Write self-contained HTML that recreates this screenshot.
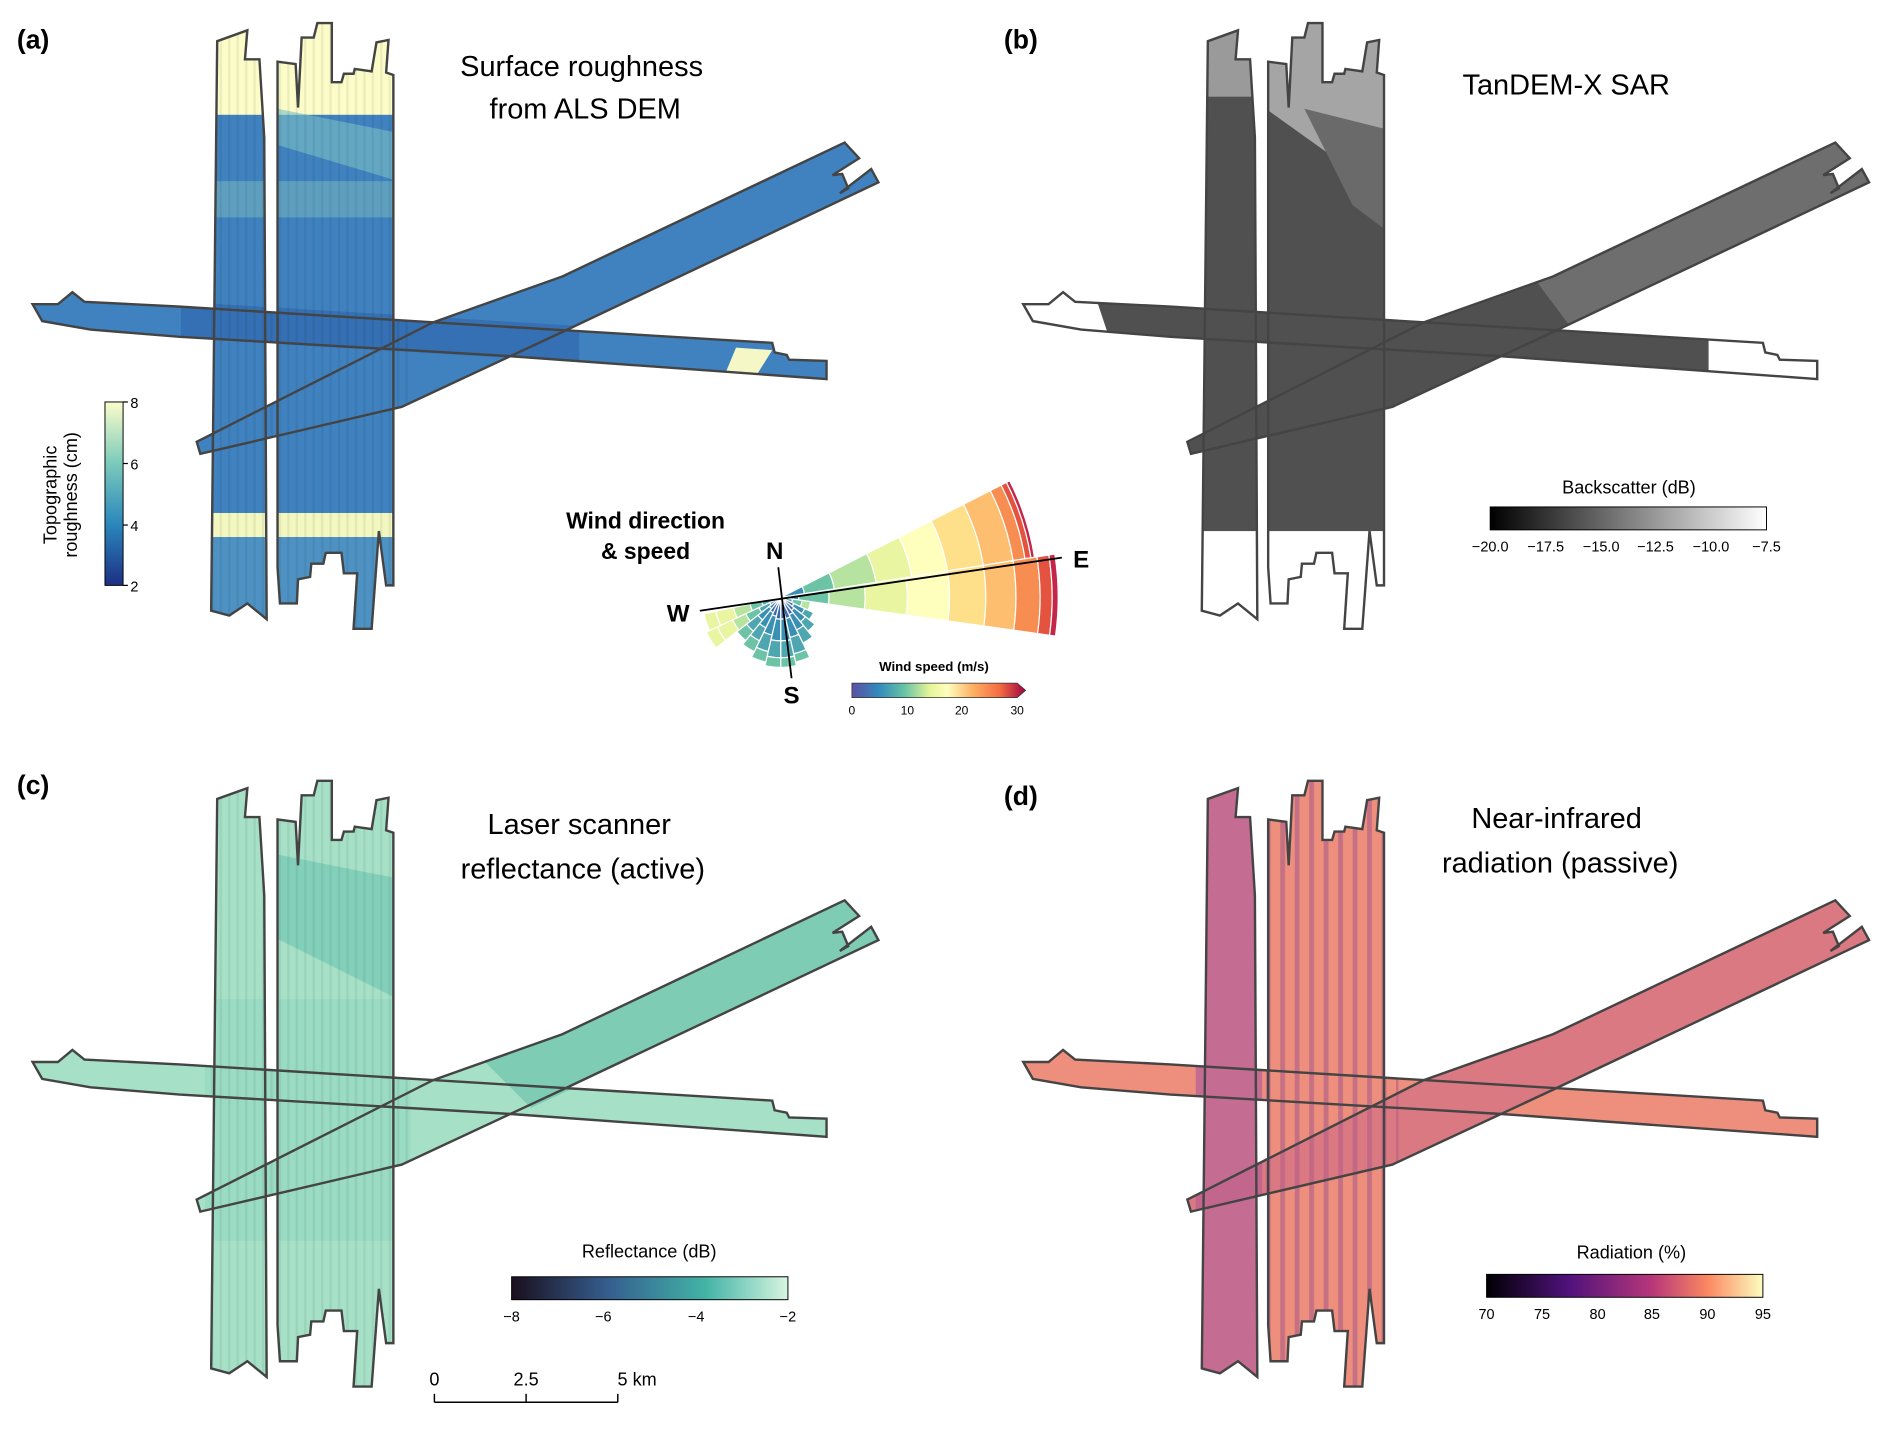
<!DOCTYPE html>
<html><head><meta charset="utf-8"><style>
html,body{margin:0;padding:0;background:#fff}
svg{display:block}
text{font-family:"Liberation Sans",sans-serif}
</style></head><body>
<svg id="s" width="1892" height="1435" viewBox="0 0 1568 1189" xmlns="http://www.w3.org/2000/svg">
<defs>
<polygon id="p1" points="180,34 205,25 203,49 215,49 219,114 221,513 205,500 190,510 175,506"/>
<polygon id="p2" points="230,51 245,53 247,89 250,31 260,31 263,19 275,19 275,68 283,68 285,61 293,61 294,57 308,59 312,35 322,33 320,60 326,62 326,485 320,485 314,440 308,521 293,521 296,475 285,475 283,458 270,458 268,467 258,467 257,478 247,480 246,500 232,500 230,470"/>
<polygon id="p3" points="27,252 48,252 60,242 70,250 149,254 359,267 640,284 642,292 652,294 654,298 685,299 685,314 422,295 149,279 75,273 35,266"/>
<polygon id="p4" points="163,366 359,267 466,229 700,118 712,131 690,145 698,144 703,156 696,160 722,140 728,151 466,275 333,337 166,376"/>
<g id="fp"><use href="#p1"/><use href="#p2"/><use href="#p3"/><use href="#p4"/></g>
<clipPath id="cp"><use href="#p1"/><use href="#p2"/><use href="#p3"/><use href="#p4"/></clipPath>
<linearGradient id="ga" x1="0" y1="1" x2="0" y2="0"><stop offset="0" stop-color="#1d2f84"/><stop offset=".33" stop-color="#2a86bb"/><stop offset=".67" stop-color="#7ccbbb"/><stop offset="1" stop-color="#fcfdcb"/></linearGradient>
<linearGradient id="gb"><stop offset="0" stop-color="#000"/><stop offset="1" stop-color="#fff"/></linearGradient>
<linearGradient id="gc"><stop offset="0" stop-color="#1a0f1e"/><stop offset=".35" stop-color="#355e8f"/><stop offset=".7" stop-color="#42b3a6"/><stop offset="1" stop-color="#d6f5e0"/></linearGradient>
<linearGradient id="gd"><stop offset="0" stop-color="#000004"/><stop offset=".3" stop-color="#51127c"/><stop offset=".6" stop-color="#b73779"/><stop offset=".8" stop-color="#fb8861"/><stop offset="1" stop-color="#fcfdbf"/></linearGradient>
<linearGradient id="gw"><stop offset="0" stop-color="#5e4fa2"/><stop offset=".15" stop-color="#3288bd"/><stop offset=".3" stop-color="#66c2a5"/><stop offset=".45" stop-color="#e6f598"/><stop offset=".55" stop-color="#fefebd"/><stop offset=".7" stop-color="#fdae61"/><stop offset=".85" stop-color="#f46d43"/><stop offset="1" stop-color="#9e0142"/></linearGradient>
<pattern id="stripes" width="12" height="10" patternUnits="userSpaceOnUse"><rect width="4" height="10" fill="#7b3a92" opacity=".35"/></pattern>
<pattern id="vst" width="7" height="10" patternUnits="userSpaceOnUse"><rect width="2" height="10" fill="#000" opacity=".06"/></pattern>
</defs>

<!-- panel a -->
<text x="14" y="40" font-size="22" font-weight="bold">(a)</text>
<g>
<use href="#fp" fill="#3f82bf"/>
<g clip-path="url(#cp)">
<rect x="170" y="0" width="170" height="95" fill="#fbfcc8"/>
<polygon points="230,90 330,110 330,150 230,120" fill="#7cbfc4" opacity=".6"/>
<rect x="170" y="150" width="170" height="30" fill="#8fcbc0" opacity=".4"/>
<rect x="170" y="425" width="170" height="20" fill="#f3f7c0"/>
<rect x="170" y="445" width="170" height="80" fill="#4d92c2"/>
<polygon points="610,288 640,290 625,314 600,312" fill="#f5f7c6"/>
<polygon points="150,250 480,270 480,300 150,280" fill="#2a5ea8" opacity=".5"/>
<rect x="170" y="0" width="170" height="530" fill="url(#vst)"/>
</g>
<use href="#fp" fill="none" stroke="#444" stroke-width="2"/>
</g>
<text x="482" y="63" font-size="24" text-anchor="middle">Surface roughness</text>
<text x="485" y="98" font-size="24" text-anchor="middle">from  ALS DEM</text>
<rect x="87" y="333" width="15" height="152" fill="url(#ga)" stroke="#000" stroke-width=".8"/>
<g stroke="#000">
<line x1="102" y1="333" x2="106" y2="333"/><line x1="102" y1="384" x2="106" y2="384"/><line x1="102" y1="435" x2="106" y2="435"/><line x1="102" y1="485" x2="106" y2="485"/>
</g>
<g font-size="12"><text x="108" y="338">8</text><text x="108" y="389">6</text><text x="108" y="440">4</text><text x="108" y="490">2</text></g>
<text transform="translate(47,410) rotate(-90)" font-size="15" text-anchor="middle">Topographic</text>
<text transform="translate(64,410) rotate(-90)" font-size="15" text-anchor="middle">roughness (cm)</text>

<!-- wind rose -->
<g id="rose"></g>
<line x1="580" y1="506" x2="880" y2="462" stroke="#000" stroke-width="1.5"/>
<line x1="645" y1="470" x2="656" y2="562" stroke="#000" stroke-width="1.5"/>
<text x="535" y="438" font-size="19" font-weight="bold" text-anchor="middle">Wind direction</text>
<text x="535" y="463" font-size="19" font-weight="bold" text-anchor="middle">&amp; speed</text>
<text x="642" y="463" font-size="20" font-weight="bold" text-anchor="middle">N</text>
<text x="562" y="515" font-size="20" font-weight="bold" text-anchor="middle">W</text>
<text x="656" y="583" font-size="20" font-weight="bold" text-anchor="middle">S</text>
<text x="896" y="470" font-size="20" font-weight="bold" text-anchor="middle">E</text>
<text x="774" y="556" font-size="11" font-weight="bold" text-anchor="middle">Wind speed (m/s)</text>
<polygon points="706,566 843,566 850,572 843,578 706,578" fill="url(#gw)" stroke="#333" stroke-width=".6"/>
<g font-size="10" text-anchor="middle"><text x="706" y="592">0</text><text x="752" y="592">10</text><text x="797" y="592">20</text><text x="843" y="592">30</text></g>

<!-- panel b -->
<text x="832" y="40" font-size="22" font-weight="bold">(b)</text>
<g transform="translate(821,0)">
<use href="#fp" fill="#505050"/>
<g clip-path="url(#cp)">
<rect x="170" y="0" width="55" height="80" fill="#9a9a9a"/>
<polygon points="228,0 340,0 340,170 228,90" fill="#a5a5a5"/>
<polygon points="260,90 340,110 340,200 300,170" fill="#6a6a6a"/>
<rect x="170" y="440" width="170" height="90" fill="#fff"/>
<polygon points="0,240 85,240 100,285 0,285" fill="#fff"/>
<polygon points="595,270 700,270 700,330 595,330" fill="#fff"/>
<polygon points="450,230 700,100 740,150 480,270" fill="#6e6e6e"/>
</g>
<use href="#fp" fill="none" stroke="#444" stroke-width="2"/>
</g>
<text x="1298" y="78" font-size="24" text-anchor="middle">TanDEM-X SAR</text>
<text x="1350" y="409" font-size="15" text-anchor="middle">Backscatter (dB)</text>
<rect x="1235" y="420" width="229" height="19" fill="url(#gb)" stroke="#000" stroke-width=".8"/>
<g font-size="12" text-anchor="middle"><text x="1235" y="457">−20.0</text><text x="1281" y="457">−17.5</text><text x="1327" y="457">−15.0</text><text x="1372" y="457">−12.5</text><text x="1418" y="457">−10.0</text><text x="1464" y="457">−7.5</text></g>

<!-- panel c -->
<text x="14" y="658" font-size="22" font-weight="bold">(c)</text>
<g transform="translate(0,628)">
<use href="#fp" fill="#a6e0c7"/>
<g clip-path="url(#cp)">
<polygon points="230,80 330,100 330,200 230,150" fill="#6cc4b0" opacity=".6"/>
<polygon points="400,250 700,110 740,150 440,290" fill="#6fc3ad" opacity=".7"/>
<rect x="170" y="200" width="170" height="200" fill="#8ed5bf" opacity=".5"/>
<rect x="170" y="0" width="170" height="530" fill="url(#vst)"/>
</g>
<use href="#fp" fill="none" stroke="#444" stroke-width="2"/>
</g>
<text x="480" y="691" font-size="24" text-anchor="middle">Laser scanner</text>
<text x="483" y="728" font-size="24" text-anchor="middle">reflectance (active)</text>
<text x="538" y="1042" font-size="15" text-anchor="middle">Reflectance (dB)</text>
<rect x="424" y="1058" width="229" height="19" fill="url(#gc)" stroke="#000" stroke-width=".8"/>
<g font-size="12" text-anchor="middle"><text x="424" y="1095">−8</text><text x="500" y="1095">−6</text><text x="577" y="1095">−4</text><text x="653" y="1095">−2</text></g>
<g stroke="#000" stroke-width="1.2"><line x1="360" y1="1162" x2="512" y2="1162"/><line x1="360" y1="1155" x2="360" y2="1162"/><line x1="436" y1="1155" x2="436" y2="1162"/><line x1="512" y1="1155" x2="512" y2="1162"/></g>
<g font-size="15" text-anchor="middle"><text x="360" y="1148">0</text><text x="436" y="1148">2.5</text><text x="528" y="1148">5 km</text></g>

<!-- panel d -->
<text x="832" y="667" font-size="22" font-weight="bold">(d)</text>
<g transform="translate(821,628)">
<use href="#fp" fill="#ee8e7c"/>
<g clip-path="url(#cp)">
<rect x="170" y="0" width="55" height="560" fill="#b5609a" opacity=".75"/>
<rect x="228" y="0" width="110" height="560" fill="url(#stripes)"/>
<polygon points="163,366 359,267 466,229 700,118 740,150 466,275 333,337 166,376" fill="#c05f8a" opacity=".45"/>
</g>
<use href="#fp" fill="none" stroke="#444" stroke-width="2"/>
</g>
<text x="1290" y="686" font-size="24" text-anchor="middle">Near-infrared</text>
<text x="1293" y="723" font-size="24" text-anchor="middle">radiation (passive)</text>
<text x="1352" y="1043" font-size="15" text-anchor="middle">Radiation (%)</text>
<rect x="1232" y="1056" width="229" height="19" fill="url(#gd)" stroke="#000" stroke-width=".8"/>
<g font-size="12" text-anchor="middle"><text x="1232" y="1093">70</text><text x="1278" y="1093">75</text><text x="1324" y="1093">80</text><text x="1369" y="1093">85</text><text x="1415" y="1093">90</text><text x="1461" y="1093">95</text></g>
</svg>
<script>
(function(){
var g=document.getElementById('rose'),cx=647,cy=495;
var cols=['#3a8fb5','#6cc3a6','#b7e3a0','#e9f5a0','#fefebd','#fee08b','#fdbe6f','#f88d52','#e4533f','#c4264a'];
var cs=['#3b68ad','#3a8fb5','#4ea7b0','#6cc3a6','#b7e3a0','#e9f5a0'];
function wedge(a1,a2,rads,cl){
 var r0=0;
 for(var i=0;i<rads.length;i++){
  var r1=rads[i],t1=a1*Math.PI/180,t2=a2*Math.PI/180;
  var d='M'+(cx+r0*Math.cos(t1))+','+(cy+r0*Math.sin(t1))+' L'+(cx+r1*Math.cos(t1))+','+(cy+r1*Math.sin(t1))+
  ' A'+r1+','+r1+' 0 0 1 '+(cx+r1*Math.cos(t2))+','+(cy+r1*Math.sin(t2))+' L'+(cx+r0*Math.cos(t2))+','+(cy+r0*Math.sin(t2))+
  ' A'+r0+','+r0+' 0 0 0 '+(cx+r0*Math.cos(t1))+','+(cy+r0*Math.sin(t1))+'Z';
  var p=document.createElementNS('http://www.w3.org/2000/svg','path');
  p.setAttribute('d',d);p.setAttribute('fill',cl[Math.min(i,cl.length-1)]);p.setAttribute('stroke','#fff');p.setAttribute('stroke-width','1');
  g.appendChild(p);r0=r1;
 }
}
wedge(-27,-9,[20,45,80,110,140,170,195,205,210,213],cols);
wedge(-9,8,[15,40,70,105,140,170,195,215,225,230],cols);
wedge(8,25,[10,18,25],cs.slice(2));
var big=[[25,[12,22,30]],[38,[14,26,36]],[51,[16,30,42]],[64,[18,34,48,55]],[77,[18,36,50,58]],[90,[18,36,50,58]],[103,[16,32,46,55]],[116,[14,28,40,50]],[129,[12,24,36,46]],[142,[10,20,32,44,58,68]],[155,[8,16,26,40,55,65]]];
big.forEach(function(b){wedge(b[0],b[0]+13,b[1],b[0]>=142?cs.slice(1).concat(['#e9f5a0']):cs);});
})();
</script>
</body></html>
